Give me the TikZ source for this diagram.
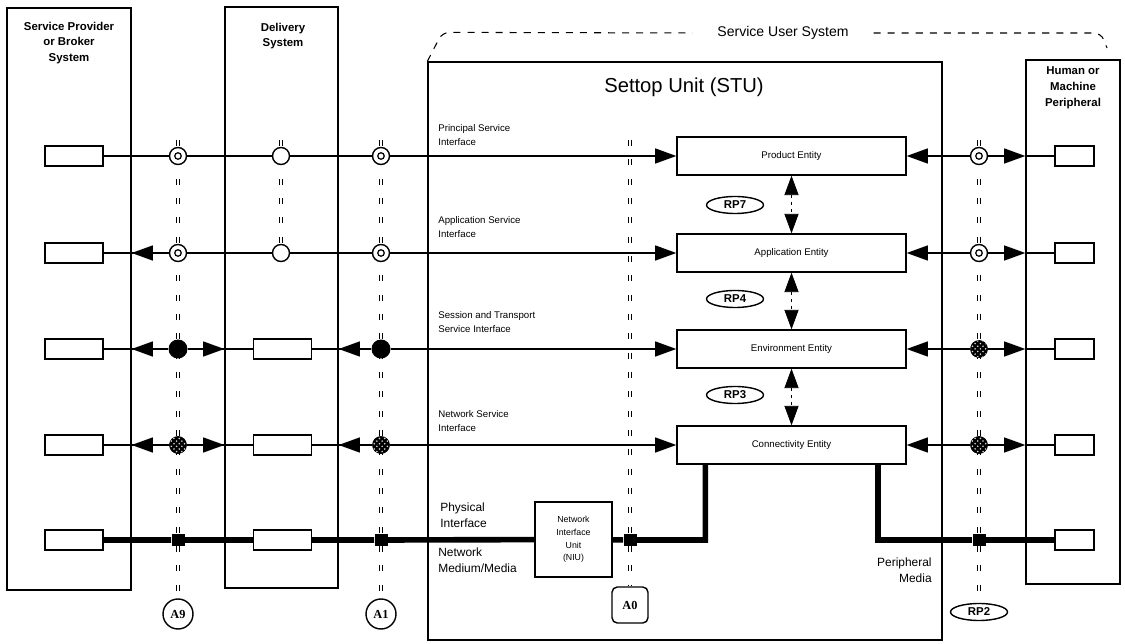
\documentclass[tikz,border=0pt]{standalone}
\usepackage{fontspec}
\setmainfont{Liberation Sans}
\newfontfamily\labelserif{Liberation Serif}
\usepackage{tikz}
\usetikzlibrary{arrows.meta, positioning, shapes.geometric, patterns}

\begin{document}
\begin{tikzpicture}[
  x=0.02cm, y=-0.02cm,
  sysbox/.style={draw, line width=0.8pt, inner sep=0pt},
  systitle/.style={align=center, font=\fontsize{6.5}{9}\selectfont\bfseries},
  entity/.style={draw, line width=0.8pt, minimum width=4.58cm,
                 minimum height=0.76cm, font=\fontsize{5.5}{7}\selectfont},
  port/.style={draw, line width=0.8pt, minimum width=1.16cm,
               minimum height=0.4cm, inner sep=0pt},
  hport/.style={port, minimum width=0.78cm},
  iflabel/.style={anchor=west, align=left, inner sep=0pt,
                  font=\fontsize{5.5}{7.8}\selectfont},
  medlabel/.style={align=left, inner sep=0pt,
                   font=\fontsize{6.8}{9}\selectfont},
  rpmark/.style={ellipse, draw, line width=0.8pt, minimum width=1.14cm,
                 minimum height=0.34cm, inner sep=0pt,
                 font=\fontsize{6.5}{7}\selectfont\bfseries},
  colcircle/.style={circle, draw, line width=0.8pt, minimum size=0.6cm,
                    inner sep=0pt, font=\labelserif\fontsize{7}{8}\selectfont\bfseries},
  colsquare/.style={draw, rounded corners=3pt, line width=0.8pt,
                    minimum size=0.72cm, inner sep=0pt,
                    font=\labelserif\fontsize{7}{8}\selectfont\bfseries},
  ringdot/.style={circle, draw, line width=0.8pt, fill=white,
                  minimum size=0.34cm, inner sep=0pt,
                  path picture={\draw[line width=0.7pt]
                    (path picture bounding box.center) circle (0.065cm);}},
  opendot/.style={circle, draw, line width=0.8pt, fill=white,
                  minimum size=0.34cm, inner sep=0pt},
  soliddot/.style={circle, fill=black, minimum size=0.38cm, inner sep=0pt},
  hatchdot/.style={circle, draw, fill=black, minimum size=0.34cm, inner sep=0pt,
                   postaction={pattern=crosshatch dots, pattern color=black!15}},
  sqdot/.style={rectangle, fill=black, minimum size=0.26cm, inner sep=0pt},
  sig/.style={line width=0.8pt},
  phys/.style={line width=3.2pt},
  arrowto/.style={-{Triangle[length=12pt, width=8.5pt]}},
  vlink/.style={line width=0.4pt, dash pattern=on 2pt off 2pt,
                {Triangle[length=11pt, width=8pt]}-{Triangle[length=11pt, width=8pt]}},
  refline/.style={line width=0.55pt, double distance=1.1pt,
                  dash pattern=on 3.5pt off 7.5pt},
  userline/.style={line width=0.6pt, dash pattern=on 4pt off 4pt,
                   rounded corners=4pt}
]
  \useasboundingbox (0,0) rectangle (1125,644);

  % --- Systems ---
  \node[sysbox, minimum width=2.48cm, minimum height=11.64cm] (spb) at (69,299) {};
  \node[systitle] (spbtitle) at (69,43) {Service Provider\\or Broker\\System};

  \node[sysbox, minimum width=2.26cm, minimum height=11.62cm] (dsys) at (281.5,297.5) {};
  \node[systitle] (dsystitle) at (283,36) {Delivery\\System};

  \node[sysbox, minimum width=10.28cm, minimum height=11.56cm] (stu) at (685,351) {};
  \node[font=\fontsize{11.5}{13}\selectfont] (stutitle) at (684,87) {Settop Unit (STU)};

  \node[sysbox, minimum width=1.88cm, minimum height=10.48cm] (hum) at (1073,322) {};
  \node[systitle] (humtitle) at (1073,88) {Human or\\Machine\\Peripheral};

  % service user system outline
  \node[font=\fontsize{8}{10}\selectfont, inner xsep=14pt] (sus) at (783,33) {Service User System};
  \coordinate (suscorner) at (1101,33);
  \coordinate (susend) at (1107,48);
  \draw[userline] (stu.north west) -- ([xshift=0.3cm, yshift=0.58cm]stu.north west) -- (sus.west);
  \draw[userline] (sus.east) -- (suscorner) -- (susend);

  % --- Ports ---
  \foreach \r/\y in {1/156, 2/253, 3/349, 4/445, 5/540} {
    \node[port] (p\r) at (74,\y) {};
    \node[hport] (h\r) at (1074.5,\y) {};
  }
  \node[port] (db3) at (282.5,349) {};
  \node[port] (db4) at (282.5,445) {};
  \node[port] (db5) at (282.5,540) {};

  \node[draw, line width=0.8pt, minimum width=1.54cm, minimum height=1.5cm,
        align=center, inner sep=0pt, font=\fontsize{5}{7.2}\selectfont]
        (niu) at (573.5,539.5) {Network\\Interface\\Unit\\(NIU)};

  % --- Entities ---
  \node[entity] (e1) at (791.5,156) {Product Entity};
  \node[entity] (e2) at (791.5,253) {Application Entity};
  \node[entity] (e3) at (791.5,349) {Environment Entity};
  \node[entity] (e4) at (791.5,445) {Connectivity Entity};

  \node[rpmark] (rp7) at (735,205) {RP7};
  \node[rpmark] (rp4) at (735,299) {RP4};
  \node[rpmark] (rp3) at (735,395) {RP3};

  \draw[vlink] (e1) -- (e2);
  \draw[vlink] (e2) -- (e3);
  \draw[vlink] (e3) -- (e4);

  % --- Labels ---
  \node[iflabel] (ifprin) at (438,135) {Principal Service\\Interface};
  \node[iflabel] (ifappl) at (438,227) {Application Service\\Interface};
  \node[iflabel] (ifsess) at (438,322) {Session and Transport\\Service Interface};
  \node[iflabel] (ifnetw) at (438,421) {Network Service\\Interface};
  \node[medlabel, anchor=west] (physif) at (440,515) {Physical\\Interface};
  \node[medlabel, anchor=west] (netmed) at (438,560) {Network\\Medium/Media};
  \node[medlabel, anchor=east, align=right] (perimed) at (932,570) {Peripheral\\Media};

  % --- Reference points ---
  \node[colcircle] (a9) at (178,614) {A9};
  \node[colcircle] (a1) at (381,614) {A1};
  \node[colsquare] (a0) at (630,605) {A0};
  \node[rpmark] (rp2) at (979,612) {RP2};

  \foreach \n/\x in {a9/178, a1/381, a0/630, rp2/979} {
    \coordinate (\n top) at (\x,140);
    \draw[refline] (\n top) -- (\n);
  }
  \coordinate (dvtop) at (281,140);
  \coordinate (dvbot) at (281,272);
  \draw[refline] (dvtop) -- (dvbot);

  % markers
  \foreach \r/\y in {1/156, 2/253} {
    \node[ringdot] (a9r\r) at (178,\y) {};
    \node[opendot] (dv\r) at (281,\y) {};
    \node[ringdot] (a1r\r) at (381,\y) {};
    \node[ringdot] (rpr\r) at (979,\y) {};
  }
  \node[soliddot] (a9r3) at (178,349) {};
  \node[soliddot] (a1r3) at (381,349) {};
  \node[hatchdot] (rpr3) at (979,349) {};
  \node[hatchdot] (a9r4) at (178,445) {};
  \node[hatchdot] (a1r4) at (381,445) {};
  \node[hatchdot] (rpr4) at (979,445) {};
  \node[sqdot] (a9r5) at (178,540) {};
  \node[sqdot] (a1r5) at (381,540) {};
  \node[sqdot] (a0r5) at (630,540) {};
  \node[sqdot] (rpr5) at (979,540) {};

  % --- Interfaces ---
  % principal and application service
  \draw[sig, arrowto] (p1) -- (a9r1) -- (dv1) -- (a1r1) -- (e1);
  \draw[sig, arrowto] (p2) -- (a9r2) -- (dv2) -- (a1r2) -- (e2);
  \draw[sig, arrowto] (a9r2) -- (spb.east |- a9r2);

  % session/transport and network service
  \foreach \r in {3,4} {
    \draw[sig] (p\r) -- (a9r\r) -- (db\r) -- (a1r\r);
    \draw[sig, arrowto] (a9r\r) -- (spb.east |- a9r\r);
    \draw[sig, arrowto] (a9r\r) -- (dsys.west |- a9r\r);
    \draw[sig, arrowto] (a1r\r) -- (dsys.east |- a1r\r);
    \draw[sig, arrowto] (a1r\r) -- (e\r);
  }

  % peripheral side
  \foreach \r in {1,...,4} {
    \draw[sig, arrowto] (rpr\r) -- (e\r);
    \draw[sig, arrowto] (rpr\r) -- (hum.west |- rpr\r);
    \draw[sig] (hum.west |- rpr\r) -- (h\r);
  }

  % physical interface
  \draw[phys] (p5) -- (a9r5) -- (db5) -- (a1r5) -- (niu);
  \draw[phys] (niu) -- (a0r5) -| ([xshift=0.58cm]e4.south west);
  \draw[phys] ([xshift=-0.58cm]e4.south east) |- (rpr5) -- (h5);

\end{tikzpicture}
\end{document}
